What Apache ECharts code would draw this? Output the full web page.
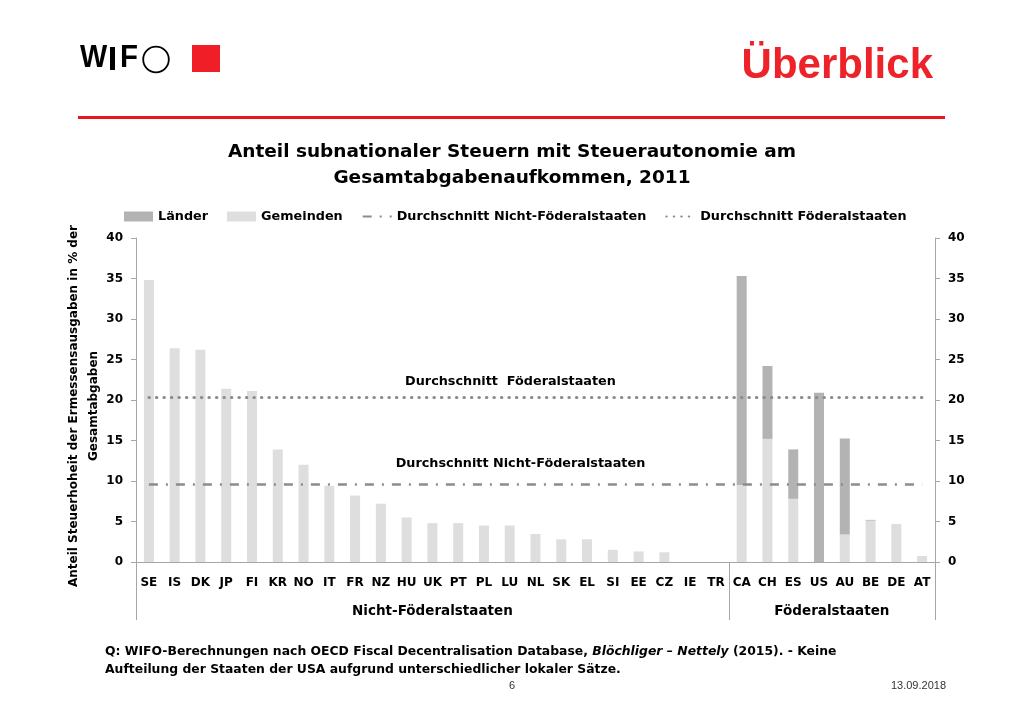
<!DOCTYPE html>
<html><head><meta charset="utf-8">
<script src="https://cdn.jsdelivr.net/npm/echarts@6/dist/echarts.min.js"></script>
<style>html,body{margin:0;padding:0;background:#fff}#c{width:1024px;height:709px}</style>
</head><body><div id="c"></div>
<script>
const categories = ['SE','IS','DK','JP','FI','KR','NO','IT','FR','NZ','HU','UK','PT','PL','LU','NL','SK','EL','SI','EE','CZ','IE','TR','CA','CH','ES','US','AU','BE','DE','AT'];
const gemeinden = [34.8,26.4,26.2,21.4,21.1,13.9,12.0,9.4,8.2,7.2,5.5,4.8,4.8,4.5,4.5,3.45,2.8,2.8,1.5,1.3,1.2,0,0,9.5,15.2,7.8,0,3.4,5.1,4.7,0.75];
const laender = [null,null,null,null,null,null,null,null,null,null,null,null,null,null,null,null,null,null,null,null,null,null,null,25.8,9.0,6.1,20.9,11.85,0.1,null,null];
const avgNichtFoederal = 9.55;
const avgFoederal = 20.3;
const groups = ['Nicht-Föderalstaaten','Föderalstaaten'];
const groupSizes = [23, 8];
const yMin = 0, yMax = 40, yStep = 5;

const FONT = 'DejaVu Sans';
const grey = '#8c8c8c';
const dashDot = [9, 8, 2, 8];
const dotted = [0.5, 7];

const groupBounds = [0, groupSizes[0], groupSizes[0] + groupSizes[1]];
const groupCenters = [groupSizes[0] / 2, groupSizes[0] + groupSizes[1] / 2];

const chart = echarts.init(document.getElementById('c'));
chart.setOption({
  animation: false,
  backgroundColor: '#fff',
  textStyle: { fontFamily: FONT },
  title: {
    text: 'Anteil subnationaler Steuern mit Steuerautonomie am\nGesamtabgabenaufkommen, 2011',
    left: 'center', top: 134,
    textStyle: { fontFamily: FONT, fontSize: 18.5, fontWeight: 'bold', color: '#000', lineHeight: 26 }
  },
  graphic: [
    { type: 'text', x: 80, y: 58.5, scaleX: 0.9, style: { text: 'W', font: 'bold 32px "Liberation Sans"', fill: '#000', verticalAlign: 'middle' } },
    { type: 'rect', shape: { x: 110, y: 47, width: 5, height: 23 }, style: { fill: '#000' } },
    { type: 'text', x: 120, y: 58.5, scaleX: 0.92, style: { text: 'F', font: 'bold 32px "Liberation Sans"', fill: '#000', verticalAlign: 'middle' } },
    { type: 'circle', shape: { cx: 156, cy: 59.5, r: 12.8 }, style: { fill: 'none', stroke: '#000', lineWidth: 1.8 } },
    { type: 'rect', shape: { x: 192, y: 45, width: 28, height: 27 }, style: { fill: '#f01e26' } },
    { type: 'text', x: 933, y: 87, style: { text: 'Überblick', font: 'bold 42px "Liberation Sans"', fill: '#ee2229', align: 'right', verticalAlign: 'bottom' } },
    { type: 'rect', shape: { x: 78, y: 116, width: 867, height: 3 }, style: { fill: '#e8161f' } },
    { type: 'text', x: 105, y: 643, style: {
        text: 'Q: WIFO-Berechnungen nach OECD Fiscal Decentralisation Database, {i|Blöchliger – Nettely} (2015). - Keine\nAufteilung der Staaten der USA aufgrund unterschiedlicher lokaler Sätze.',
        font: 'bold 12.4px "DejaVu Sans"', fill: '#000', lineHeight: 18,
        rich: { i: { fontStyle: 'italic', fontWeight: 'bold', fontSize: 12.4, fontFamily: FONT } }
    } },
    { type: 'text', x: 512, y: 686, style: { text: '6', font: '11px "Liberation Sans"', fill: '#333', align: 'center', verticalAlign: 'middle' } },
    { type: 'text', x: 946, y: 686, style: { text: '13.09.2018', font: '11px "Liberation Sans"', fill: '#333', align: 'right', verticalAlign: 'middle' } }
  ],
  legend: {
    top: 205, left: 119, itemGap: 19, itemWidth: 29, itemHeight: 10,
    data: [
      { name: 'Länder', icon: 'rect' },
      { name: 'Gemeinden', icon: 'rect' },
      { name: 'Durchschnitt Nicht-Föderalstaaten', itemStyle: { color: 'rgba(0,0,0,0)', borderWidth: 0 } },
      { name: 'Durchschnitt Föderalstaaten', itemStyle: { color: 'rgba(0,0,0,0)', borderWidth: 0 } }
    ],
    textStyle: { fontFamily: FONT, fontSize: 12.8, fontWeight: 'bold', color: '#000' }
  },
  grid: { left: 136, right: 89, top: 238, bottom: 147 },
  xAxis: [
    {
      type: 'category', data: categories,
      axisLine: { show: true, lineStyle: { color: '#a6a6a6', width: 1 } },
      axisTick: { show: false },
      axisLabel: { interval: 0, margin: 15, fontFamily: FONT, fontSize: 12, fontWeight: 'bold', color: '#000' }
    },
    {
      type: 'value', position: 'bottom', min: 0, max: categories.length,
      axisLine: { show: false },
      splitLine: { show: false },
      axisTick: { show: true, length: 58, customValues: groupBounds, lineStyle: { color: '#a6a6a6' } },
      axisLabel: { show: true, margin: 42, customValues: groupCenters,
        formatter: function (v) { return groups[groupCenters.indexOf(v)] || ''; },
        fontFamily: FONT, fontSize: 13.5, fontWeight: 'bold', color: '#000' }
    }
  ],
  yAxis: [
    {
      type: 'value', min: yMin, max: yMax, interval: yStep, position: 'left',
      name: 'Anteil Steuerhoheit der Ermessensausgaben in % der\nGesamtabgaben',
      nameLocation: 'middle', nameRotate: 90, nameGap: 32, nameMoveOverlap: false,
      nameTextStyle: { fontFamily: FONT, fontSize: 12, fontWeight: 'bold', color: '#000', lineHeight: 20, padding: [0, 12, 0, 0] },
      axisLine: { show: true, lineStyle: { color: '#a6a6a6' } },
      axisTick: { show: true, length: 5, lineStyle: { color: '#a6a6a6' } },
      splitLine: { show: false },
      axisLabel: { margin: 13, fontFamily: FONT, fontSize: 12, fontWeight: 'bold', color: '#000' }
    },
    {
      type: 'value', min: yMin, max: yMax, interval: yStep, position: 'right',
      axisLine: { show: true, lineStyle: { color: '#a6a6a6' } },
      axisTick: { show: true, length: 5, lineStyle: { color: '#a6a6a6' } },
      splitLine: { show: false },
      axisLabel: { margin: 13, fontFamily: FONT, fontSize: 12, fontWeight: 'bold', color: '#000' }
    }
  ],
  series: [
    { name: 'Gemeinden', type: 'bar', stack: 'a', data: gemeinden, barWidth: 10, itemStyle: { color: '#dedede' } },
    { name: 'Länder', type: 'bar', stack: 'a', data: laender, barWidth: 10, itemStyle: { color: '#b3b3b3' } },
    {
      name: 'Durchschnitt Nicht-Föderalstaaten', type: 'line', data: [], symbol: 'none',
      itemStyle: { color: grey },
      lineStyle: { color: grey, width: 2.5, type: dashDot },
      markLine: {
        symbol: 'none', silent: true,
        lineStyle: { color: grey, width: 2.5, type: dashDot },
        label: { show: true, position: 'middle', distance: 14, padding: [0, 30, 0, 0],
          formatter: 'Durchschnitt Nicht-Föderalstaaten',
          fontFamily: FONT, fontSize: 12.8, fontWeight: 'bold', color: '#000' },
        data: [[{ coord: [categories[0], avgNichtFoederal] }, { coord: [categories[categories.length - 1], avgNichtFoederal] }]]
      }
    },
    {
      name: 'Durchschnitt Föderalstaaten', type: 'line', data: [], symbol: 'none',
      itemStyle: { color: grey },
      lineStyle: { color: grey, width: 3, type: dotted, cap: 'round' },
      markLine: {
        symbol: 'none', silent: true,
        lineStyle: { color: grey, width: 3, type: dotted, cap: 'round' },
        label: { show: true, position: 'middle', distance: 9, padding: [0, 50, 0, 0],
          formatter: 'Durchschnitt  Föderalstaaten',
          fontFamily: FONT, fontSize: 12.8, fontWeight: 'bold', color: '#000' },
        data: [[{ coord: [categories[0], avgFoederal] }, { coord: [categories[categories.length - 1], avgFoederal] }]]
      }
    }
  ]
});
</script></body></html>
